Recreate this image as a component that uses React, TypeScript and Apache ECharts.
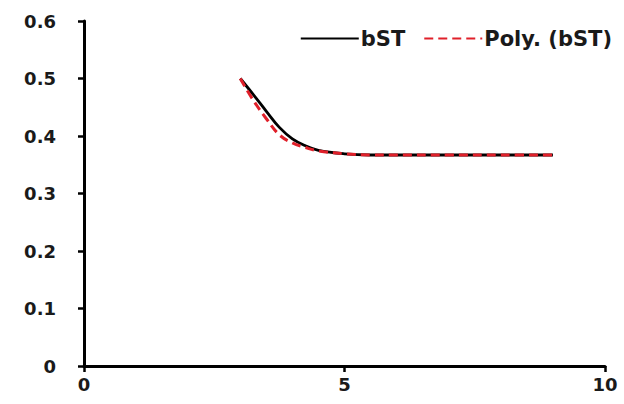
import React, { useEffect, useRef } from "react";
import * as echarts from "echarts";

const xValues = [3, 3.25, 3.5, 3.75, 4, 4.25, 4.5, 5, 5.5, 6, 7, 8, 9];
const bST = [0.5, 0.472, 0.443, 0.415, 0.395, 0.383, 0.375, 0.369, 0.367, 0.367, 0.367, 0.367, 0.367];
const polyBST = [0.5, 0.462, 0.43, 0.402, 0.388, 0.38, 0.374, 0.369, 0.367, 0.367, 0.367, 0.367, 0.367];
const seriesNames = ["bST", "Poly. (bST)"];

export default function App() {
  const ref = useRef<HTMLDivElement>(null);
  useEffect(() => {
    if (!ref.current) return;
    const chart = echarts.init(ref.current, null, { renderer: "svg" });
    const font = "DejaVu Sans";
    chart.setOption({
      animation: false,
      backgroundColor: "#ffffff",
      grid: { left: 84, right: 19, top: 21, bottom: 38, containLabel: false },
      legend: {
        right: 7,
        top: 23,
        itemWidth: 58,
        itemHeight: 14,
        itemGap: 18,
        itemStyle: { opacity: 0 },
        textStyle: { fontFamily: font, fontSize: 21, fontWeight: "bold", color: "#1a1a1a", padding: [0, 0, 0, -3] },
        data: seriesNames,
      },
      xAxis: {
        type: "value",
        min: 0,
        max: 10,
        interval: 5,
        axisLine: { show: true, lineStyle: { color: "#000", width: 3 } },
        axisTick: { show: true, length: 6, lineStyle: { color: "#000", width: 2.5 } },
        axisLabel: { fontFamily: font, fontSize: 18, fontWeight: "bold", color: "#1a1a1a", margin: 9 },
        splitLine: { show: false },
      },
      yAxis: {
        type: "value",
        min: 0,
        max: 0.6,
        interval: 0.1,
        axisLine: { show: true, lineStyle: { color: "#000", width: 3 } },
        axisTick: { show: true, length: 6, lineStyle: { color: "#000", width: 2.5 } },
        axisLabel: {
          fontFamily: font,
          fontSize: 18,
          fontWeight: "bold",
          color: "#1a1a1a",
          margin: 28,
          formatter: (v: number) => (v === 0 ? "0" : v.toFixed(1)),
        },
        splitLine: { show: false },
      },
      series: [
        {
          name: seriesNames[0],
          type: "line",
          smooth: 0.4,
          symbol: "none",
          data: xValues.map((x, i) => [x, bST[i]]),
          lineStyle: { color: "#000", width: 2.8 },
          itemStyle: { color: "#000" },
          z: 2,
        },
        {
          name: seriesNames[1],
          type: "line",
          smooth: 0.4,
          symbol: "none",
          data: xValues.map((x, i) => [x, polyBST[i]]),
          lineStyle: { color: "#e0202a", width: 3, type: [9, 5] },
          itemStyle: { color: "#e0202a" },
          z: 3,
        },
      ],
    });
    return () => chart.dispose();
  }, []);
  return <div ref={ref} style={{ width: 624, height: 404, position: "absolute", left: 0, top: 0 }} />;
}
